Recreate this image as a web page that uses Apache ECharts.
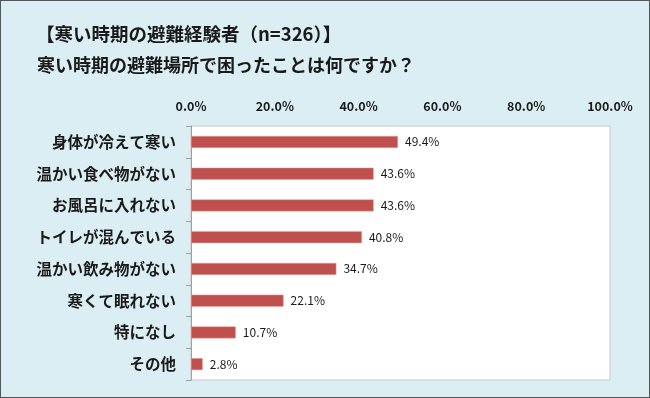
<!DOCTYPE html>
<html>
<head>
<meta charset="utf-8">
<script src="https://cdn.jsdelivr.net/npm/echarts@6/dist/echarts.min.js"></script>
<style>
    html, body { margin: 0; padding: 0; }
    #chart {
        width: 648px; height: 396px;
        border: 1px solid #555;
        background: #dbeef4;
    }
</style>
</head>
<body>
<div id="chart"></div>
<script>
const categories = ['身体が冷えて寒い', '温かい食べ物がない', 'お風呂に入れない', 'トイレが混んでいる',
    '温かい飲み物がない', '寒くて眠れない', '特になし', 'その他'];
const values = [49.4, 43.6, 43.6, 40.8, 34.7, 22.1, 10.7, 2.8];
const xTicks = [0, 20, 40, 60, 80, 100];

const fontFam = '"Noto Sans CJK JP", "Noto Sans", sans-serif';
const myChart = echarts.init(document.getElementById('chart'));

const option = {
    backgroundColor: '#dbeef4',
    title: [
        {
            text: '【寒い時期の避難経験者（n=326）】',
            left: 30, top: 19,
            textStyle: { fontFamily: fontFam, fontSize: 18.5, fontWeight: 'bold', color: '#1a1a1a' }
        },
        {
            text: '寒い時期の避難場所で困ったことは何ですか？',
            left: 31, top: 50,
            textStyle: { fontFamily: fontFam, fontSize: 18, fontWeight: 'bold', color: '#1a1a1a' }
        }
    ],
    grid: {
        left: 190, right: 39, top: 125, bottom: 17,
        show: true, backgroundColor: '#ffffff', borderColor: '#c8c8c8', borderWidth: 1
    },
    xAxis: {
        type: 'value',
        position: 'top',
        min: 0, max: 100, interval: 20,
        axisLine: { show: false },
        axisTick: { show: false },
        splitLine: { show: false },
        axisLabel: {
            margin: 13,
            fontFamily: fontFam, fontSize: 12.5, fontWeight: 'bold', color: '#1a1a1a',
            formatter: (v) => xTicks.includes(v) ? v.toFixed(1) + '%' : ''
        }
    },
    yAxis: {
        type: 'category',
        inverse: true,
        data: categories,
        axisLine: { show: true, lineStyle: { color: '#a0a0a0', width: 1 } },
        axisTick: { show: true, length: 5, lineStyle: { color: '#a0a0a0' } },
        axisLabel: {
            margin: 15,
            fontFamily: fontFam, fontSize: 15.5, fontWeight: 'bold', color: '#1a1a1a'
        }
    },
    series: [
        {
            type: 'bar',
            data: values,
            barWidth: 12,
            itemStyle: { color: '#c0504d', borderColor: '#e8a8a6', borderWidth: 0.5 },
            label: {
                show: true,
                position: 'right',
                distance: 7,
                fontFamily: fontFam, fontSize: 12, color: '#1a1a1a',
                formatter: (p) => p.value.toFixed(1) + '%'
            }
        }
    ]
};
myChart.setOption(option, true);
</script>
</body>
</html>
